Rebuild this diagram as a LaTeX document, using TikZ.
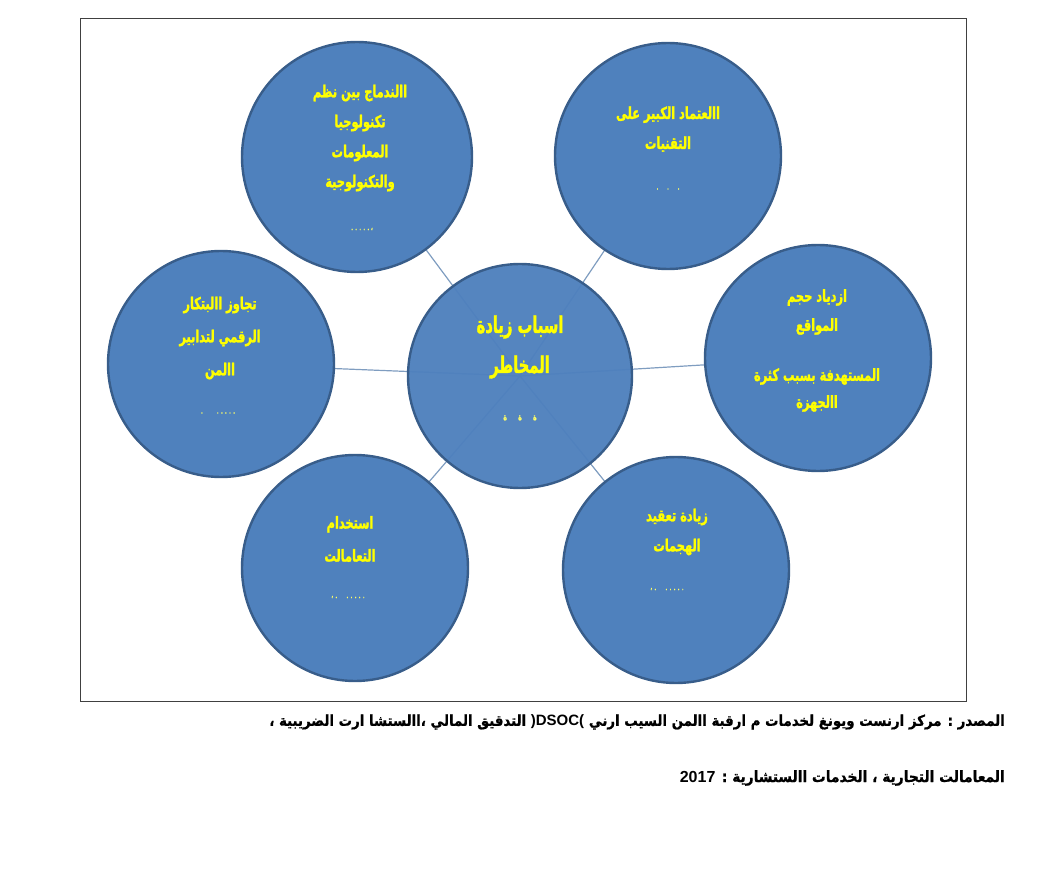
\documentclass[tikz,border=0pt]{standalone}
\usepackage{fontspec}
\setmainfont{Liberation Sans}
\newfontfamily\arbold[Script=Arabic,FakeStretch=0.69,FakeBold=1.5]{DejaVu Sans Bold}
\newfontfamily\arbig[Script=Arabic,FakeStretch=0.64,FakeBold=1.5]{DejaVu Sans Bold}
\newfontfamily\arfoot[Script=Arabic,FakeStretch=0.89,FakeBold=0.8]{DejaVu Sans Bold}
\newfontfamily\latfont{Liberation Sans}
\TeXXeTstate=1
\usetikzlibrary{backgrounds}
\definecolor{cfill}{HTML}{4F81BD}
\definecolor{cdraw}{HTML}{385D8A}
\definecolor{clink}{HTML}{7F9DC0}
\definecolor{ctext}{HTML}{FFFF00}
\begin{document}
\begin{tikzpicture}[x=1pt,y=-1pt,
  bubble/.style={circle,fill=cfill,draw=cdraw,line width=2.4pt,minimum size=#1,inner sep=0pt},
  link/.style={draw=clink,line width=1.2pt},
  lbl/.style={text=ctext,align=center,inner sep=0pt,font=\arbold\fontsize{16.5}{30}\selectfont},
  biglbl/.style={text=ctext,align=center,inner sep=0pt,font=\arbig\fontsize{23}{40}\selectfont},
  dots/.style={text=ctext!60!white,inner sep=0pt,font=\arbold\fontsize{7}{7}\selectfont},
  foot/.style={text=black,inner sep=0pt,anchor=east,font=\arfoot\fontsize{15}{18}\selectfont},
  frame/.style={draw=black!75,line width=0.9pt}
]
\useasboundingbox (0,0) rectangle (1041,874);
\node[frame,minimum width=886pt,minimum height=683pt,inner sep=0pt] (frm) at (523,359.5) {};

\node[bubble=224pt,fill opacity=0.97] (c) at (520,376) {};
\node[bubble=230pt] (tl) at (357,157) {};
\node[bubble=226pt] (tr) at (668,156) {};
\node[bubble=226pt] (r) at (818,358) {};
\node[bubble=226pt] (l) at (221,364) {};
\node[bubble=226pt] (bl) at (355,568) {};
\node[bubble=226pt] (br) at (676,570) {};

\begin{scope}[on background layer]
\draw[link] (c.center) -- (tl.center);
\draw[link] (c.center) -- (tr.center);
\draw[link] (c.center) -- (r.center);
\draw[link] (c.center) -- (l.center);
\draw[link] (c.center) -- (bl.center);
\draw[link] (c.center) -- (br.center);
\end{scope}

% texts
\node[lbl] (tlt) at (360,138) {\beginR االندماج بين نظم\endR\\ \beginR تكنولوجيا\endR\\ \beginR المعلومات\endR\\ \beginR والتكنولوجية\endR};
\node[dots] (tld) at (362,229) {\beginR ، . . . . .\endR};

\node[lbl] (trt) at (668,129) {\beginR االعتماد الكبير على\endR\\ \beginR التقنيات\endR};
\node[dots] (trd) at (668,189) {.\quad\ .\quad\ .};

\node[lbl,font=\arbold\fontsize{16.5}{29}\selectfont] (rt1) at (817,312) {\beginR ازدياد حجم\endR\\ \beginR المواقع\endR};
\node[lbl,font=\arbold\fontsize{16.5}{27}\selectfont] (rt2) at (817,390) {\beginR المستهدفة بسبب كثرة\endR\\ \beginR االجهزة\endR};

\node[lbl,font=\arbold\fontsize{16.5}{33}\selectfont] (lt) at (220,338) {\beginR تجاوز االبتكار\endR\\ \beginR الرقمي لتدابير\endR\\ \beginR االمن\endR};
\node[dots] (ld) at (218,413) {.\qquad . . . . .};

\node[biglbl] (ct) at (520,347) {\beginR اسباب زيادة\endR\\ \beginR المخاطر\endR};
\node[dots,font=\arbold\fontsize{9}{9}\selectfont] (cd) at (520,418) {\beginR ة\quad\ ة\quad\ ة\endR};

\node[lbl,font=\arbold\fontsize{16.5}{33}\selectfont] (blt) at (350,539) {\beginR استخدام\endR\\ \beginR التعامالت\endR};
\node[dots] (bld) at (348,597) {\beginR . . . . . \quad . ،\endR};

\node[lbl] (brt) at (677,532) {\beginR زيادة تعقيد\endR\\ \beginR الهجمات\endR};
\node[dots] (brd) at (667,589) {\beginR . . . . . \quad . ،\endR};

% footer
\node[foot] (f1) at (1005,722) {\beginR المصدر : مركز ارنست ويونغ لخدمات م ارقبة االمن السيب ارني {\latfont\bfseries )DSOC(} التدقيق المالي ،االستشا ارت الضريبية ،\endR};
\node[foot,font=\arfoot\fontsize{15.5}{18}\selectfont] (f2) at (1005,778) {\beginR المعامالت التجارية ، الخدمات االستشارية : \beginL{\latfont\bfseries\fontsize{16}{18}\selectfont 2017}\endL{}\endR};
\end{tikzpicture}
\end{document}
